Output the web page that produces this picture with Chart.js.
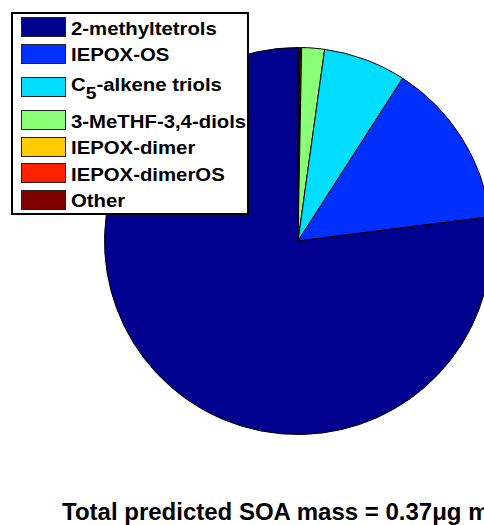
<!DOCTYPE html>
<html>
<head>
<meta charset="utf-8">
<script src="https://cdn.jsdelivr.net/npm/chart.js@4.4.0/dist/chart.umd.min.js"></script>
<style>
    html, body {
        margin: 0;
        padding: 0;
        width: 484px;
        height: 525px;
        overflow: hidden;
        background: #fff;
        font-family: "Liberation Sans", Arial, sans-serif;
    }
    #pieWrap {
        position: absolute;
        left: 104px;
        top: 47px;
        width: 388px;
        height: 388px;
    }
    #legend {
        position: absolute;
        left: 11px;
        top: 12px;
        width: 238px;
        box-sizing: border-box;
        border: 2px solid #000;
        background: #fff;
        z-index: 2;
    }
    .row {
        display: flex;
        align-items: center;
        height: 26.5px;
    }
    .row.tall {
        height: 40px;
    }
    .swatch {
        width: 45px;
        height: 20px;
        box-sizing: border-box;
        border: 1px solid #222;
        margin-left: 8px;
        flex: none;
    }
    .label {
        display: inline-block;
        margin-left: 5px;
        font-size: 18px;
        font-weight: bold;
        line-height: 18px;
        white-space: nowrap;
        transform: scaleX(1.13);
        transform-origin: left center;
        position: relative;
        top: 1.5px;
    }
    .row.tall .label {
        top: -2.5px;
    }
    .label sub {
        font-size: 17px;
        vertical-align: -8px;
        line-height: 0;
    }
    #title {
        position: absolute;
        left: 62px;
        top: 500px;
        font-size: 24px;
        line-height: 24px;
        font-weight: bold;
        white-space: nowrap;
    }
    #title sup {
        font-size: 15px;
        vertical-align: 9px;
        line-height: 0;
    }
</style>
</head>
<body>
<div id="pieWrap"><canvas id="socPie" width="388" height="388"></canvas></div>
<div id="legend"></div>
<div id="title">Total predicted SOA mass = 0.37μg m<sup>-3</sup></div>

<script>
// legend order (as in the figure)
const species = ['2-methyltetrols', 'IEPOX-OS', 'C_5-alkene triols', '3-MeTHF-3,4-diols',
                 'IEPOX-dimer', 'IEPOX-dimerOS', 'Other'];
// share of predicted SOA mass, percent
const shares = [77.0, 13.9, 6.9, 1.9, 0.1, 0.1, 0.1];
const colors = ['#00008F', '#0030FF', '#00DDFF', '#88FF77', '#FFCC00', '#FF2200', '#800000'];

build_legend();
load_pie();

function build_legend() {
    const box = document.getElementById('legend');
    species.forEach((name, i) => {
        const row = document.createElement('div');
        const hasSub = /_\d/.test(name);
        row.className = hasSub ? 'row tall' : 'row';
        const sw = document.createElement('div');
        sw.className = 'swatch';
        sw.style.background = colors[i];
        const txt = document.createElement('span');
        txt.className = 'label';
        txt.innerHTML = name.replace(/_(\d)/, '<sub>$1</sub>');
        row.appendChild(sw);
        row.appendChild(txt);
        box.appendChild(row);
    });
}

function load_pie() {
    // the original pie runs counterclockwise from 12 o'clock,
    // Chart.js goes clockwise, so feed the slices in reverse order
    const data = shares.slice().reverse();
    const bg = colors.slice().reverse();
    const labels = species.slice().reverse();

    const ctx = document.getElementById('socPie').getContext('2d');

    new Chart(ctx, {
        type: 'pie',
        data: {
            labels: labels,
            datasets: [{
                data: data,
                backgroundColor: bg,
                borderColor: '#000',
                borderWidth: 1,
                offset: 0,
                hoverOffset: 0
            }]
        },
        options: {
            responsive: false,
            animation: false,
            rotation: 0,
            layout: { padding: 0 },
            plugins: {
                legend: { display: false },
                tooltip: { enabled: false }
            }
        }
    });
}
</script>
</body>
</html>
